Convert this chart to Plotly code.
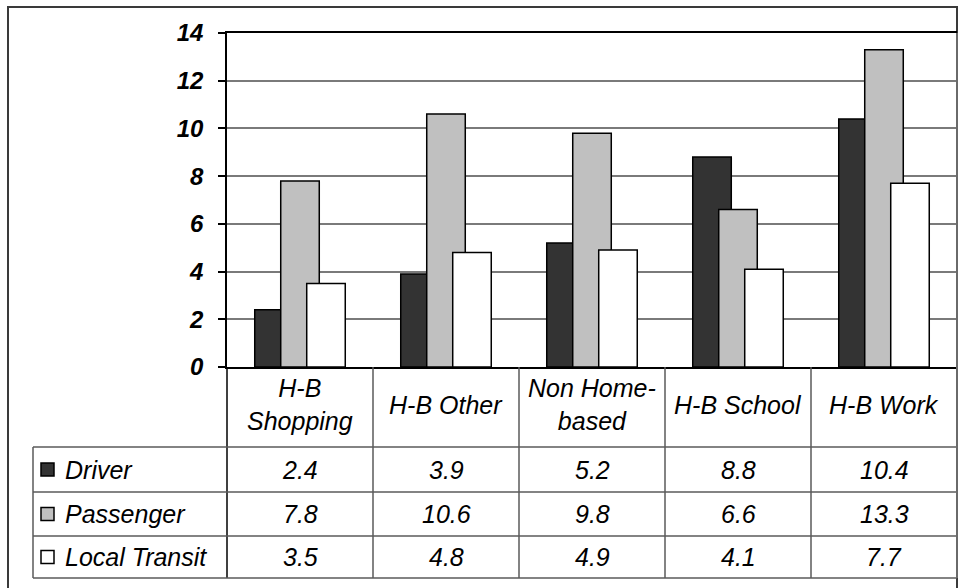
import plotly.graph_objects as go

# Trip purposes and average trip length by mode
categories = ["H-B<br>Shopping", "H-B Other", "Non Home-<br>based", "H-B School", "H-B Work"]
driver = [2.4, 3.9, 5.2, 8.8, 10.4]
passenger = [7.8, 10.6, 9.8, 6.6, 13.3]
local_transit = [3.5, 4.8, 4.9, 4.1, 7.7]

series_names = ["Driver", "Passenger", "Local Transit"]
series_values = [driver, passenger, local_transit]
series_colors = ["#333333", "#C0C0C0", "#FFFFFF"]

y_ticks = [0, 2, 4, 6, 8, 10, 12, 14]

# Page geometry (pixels)
W, H = 958, 588
ML, MR, MT, MB = 227, 1, 33, 221
PW, PH = W - ML - MR, H - MT - MB


def px(x):
    """Pixel x -> paper x."""
    return (x - ML) / PW


def py(y):
    """Pixel y -> paper y."""
    return (H - MB - y) / PH


FONT = "Liberation Sans, Arial, sans-serif"
n = len(categories)
xs = list(range(n))

bar_w = 0.264
step = 0.178

fig = go.Figure()
for k, (name, vals, col) in enumerate(zip(series_names, series_values, series_colors)):
    shift = (k - 1) * step
    fig.add_trace(go.Bar(
        x=xs, y=vals, name=name,
        width=bar_w, offset=shift - bar_w / 2,
        marker=dict(color=col, line=dict(color="#000000", width=1.5)),
        showlegend=False,
    ))

shapes = []
annotations = []

# Data table geometry
legend_left = 33
row_edges = [367, 447, 492, 536, 578]
line_col = "#5a5a5a"

# Column boundaries follow the category axis: category i spans i-0.5..i+0.5
col_edges = [i / n for i in range(n + 1)]

# Vertical lines of category columns
for i, cx in enumerate(col_edges):
    shapes.append(dict(type="line", xref="paper", yref="paper",
                       x0=cx, x1=cx, y0=py(row_edges[0]), y1=py(row_edges[-1]),
                       line=dict(color="#000000" if i == 0 else line_col, width=1.5)))
# Legend column left edge
shapes.append(dict(type="line", xref="paper", yref="paper",
                   x0=px(legend_left), x1=px(legend_left),
                   y0=py(row_edges[1]), y1=py(row_edges[-1]),
                   line=dict(color=line_col, width=1.5)))
# Horizontal row lines
for ry in row_edges[1:]:
    shapes.append(dict(type="line", xref="paper", yref="paper",
                       x0=px(legend_left), x1=1, y0=py(ry), y1=py(ry),
                       line=dict(color=line_col, width=1.5)))

# Right edge of the plot area
shapes.append(dict(type="line", xref="paper", yref="paper",
                   x0=1, x1=1, y0=1, y1=py(row_edges[-1]),
                   line=dict(color="#6a6a6a", width=2)))

# Outer chart frame
shapes.append(dict(type="rect", xref="paper", yref="paper",
                   x0=px(8), x1=px(957), y0=py(600), y1=py(7),
                   line=dict(color="#3a3a3a", width=2), fillcolor="rgba(0,0,0,0)",
                   layer="below"))

table_font = dict(family=FONT, size=25, color="#000000")

# Category header cells
for i, cat in enumerate(categories):
    annotations.append(dict(xref="paper", yref="paper",
                            x=(col_edges[i] + col_edges[i + 1]) / 2,
                            y=py((row_edges[0] + row_edges[1]) / 2 - 2),
                            text=f"<i>{cat}</i>", showarrow=False,
                            xanchor="center", yanchor="middle", font=table_font))

# Series rows: legend key, name and values
for r, (name, vals, col) in enumerate(zip(series_names, series_values, series_colors)):
    y_top, y_bot = row_edges[r + 1], row_edges[r + 2]
    yc = (y_top + y_bot) / 2
    shapes.append(dict(type="rect", xref="paper", yref="paper",
                       x0=px(41), x1=px(54), y0=py(yc + 6.5), y1=py(yc - 6.5),
                       fillcolor=col, line=dict(color="#000000", width=1.5)))
    annotations.append(dict(xref="paper", yref="paper", x=px(63), y=py(yc),
                            text=f"<i>{name}</i>", showarrow=False,
                            xanchor="left", yanchor="middle", font=table_font))
    for i, v in enumerate(vals):
        annotations.append(dict(xref="paper", yref="paper",
                                x=(col_edges[i] + col_edges[i + 1]) / 2, y=py(yc),
                                text=f"<i>{v:.1f}</i>", showarrow=False,
                                xanchor="center", yanchor="middle", font=table_font))

fig.update_layout(
    width=W, height=H,
    margin=dict(l=ML, r=MR, t=MT, b=MB, pad=0),
    paper_bgcolor="#FFFFFF", plot_bgcolor="#FFFFFF",
    barmode="overlay",
    shapes=shapes, annotations=annotations,
    font=dict(family=FONT),
    xaxis=dict(range=[-0.5, n - 0.5], showticklabels=False, ticks="",
               showgrid=False, zeroline=False,
               showline=True, linecolor="#000000", linewidth=2, mirror=True),
    yaxis=dict(range=[0, 14], tickvals=y_ticks,
               showgrid=True, gridcolor="#7a7a7a", gridwidth=1.5,
               zeroline=False,
               showline=True, linecolor="#000000", linewidth=1.5,
               ticks="outside", ticklen=7, tickcolor="#000000", tickwidth=1.5,
               ticklabelstandoff=10,
               tickfont=dict(family=FONT, size=24, color="#000000",
                             weight="bold", style="italic")),
)

fig.write_html("out.html")
